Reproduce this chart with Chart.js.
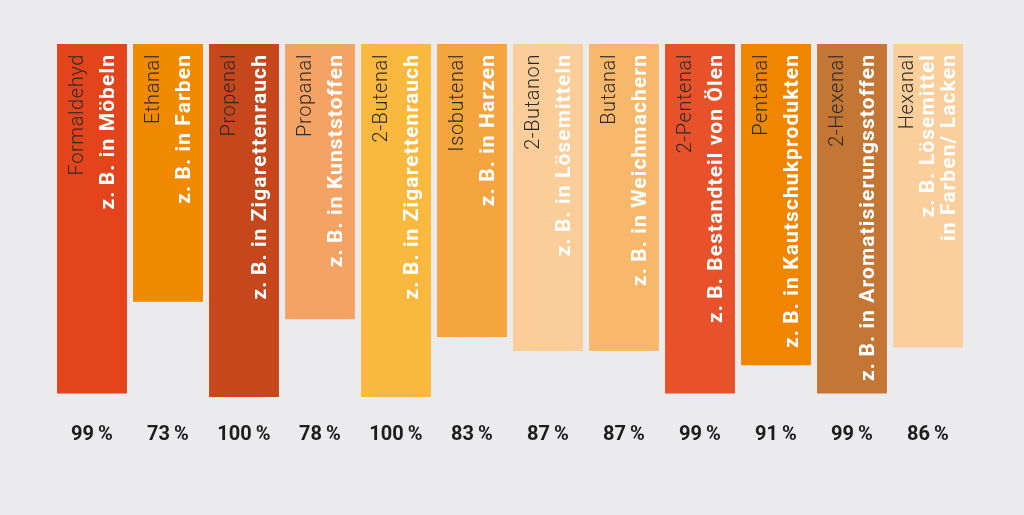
<!DOCTYPE html>
<html>
<head>
<meta charset="utf-8">
<script src="https://cdn.jsdelivr.net/npm/chart.js@4/dist/chart.umd.min.js"></script>
<style>
  html, body { margin: 0; padding: 0; background: #ebebed; }
  #wrap { width: 1024px; height: 515px; position: relative; }
</style>
</head>
<body>
<div id="wrap"><canvas id="chart" width="1024" height="515"></canvas></div>
<script>
// substances, share (%) and usage text shown inside each bar
const substances = [
  "Formaldehyd", "Ethanal", "Propenal", "Propanal", "2-Butenal", "Isobutenal",
  "2-Butanon", "Butanal", "2-Pentenal", "Pentanal", "2-Hexenal", "Hexanal"
];
const shares = [99, 73, 100, 78, 100, 83, 87, 87, 99, 91, 99, 86];
const usages = [
  ["z.\u2009B. in Möbeln"],
  ["z.\u2009B. in Farben"],
  ["z.\u2009B. in Zigarettenrauch"],
  ["z.\u2009B. in Kunststoffen"],
  ["z.\u2009B. in Zigarettenrauch"],
  ["z.\u2009B. in Harzen"],
  ["z.\u2009B. in Lösemitteln"],
  ["z.\u2009B. in Weichmachern"],
  ["z.\u2009B. Bestandteil von Ölen"],
  ["z.\u2009B. in Kautschukprodukten"],
  ["z.\u2009B. in Aromatisierungsstoffen"],
  ["z.\u2009B. Lösemittel", "in Farben/ Lacken"]
];
const barColors = [
  "#e4441b", "#f08a00", "#c6471c", "#f5a364", "#f9b93e", "#f5a540",
  "#fbcd98", "#f7b86c", "#e8522a", "#f08600", "#c47634", "#fbcf9b"
];

const FONT = "Roboto, 'Open Sans', sans-serif";

// vertical text inside the bars, reading bottom to top, anchored near the top
const barTextPlugin = {
  id: "barText",
  afterDatasetsDraw(chart) {
    const { ctx } = chart;
    const meta = chart.getDatasetMeta(0);
    meta.data.forEach((bar, i) => {
      const lines = [{ text: substances[i], bold: false }]
        .concat(usages[i].map(t => ({ text: t, bold: true })));
      const step = lines.length > 2 ? 21 : 31;
      const first = bar.x + 1 - step * (lines.length - 1) / 2;
      const top = chart.chartArea.top + 10;
      lines.forEach((ln, li) => {
        ctx.save();
        ctx.translate(first + li * step, top);
        ctx.rotate(-Math.PI / 2);
        ctx.textAlign = "right";
        ctx.textBaseline = "middle";
        ctx.font = ln.bold ? `bold 21px ${FONT}` : `300 20px ${FONT}`;
        ctx.letterSpacing = ln.bold ? "1.1px" : "0.6px";
        ctx.fillStyle = ln.bold ? "#ffffff" : "#2b2b2b";
        ctx.fillText(ln.text, 0, 0);
        ctx.restore();
      });
    });
  }
};

new Chart(document.getElementById("chart"), {
  type: "bar",
  data: {
    labels: substances,
    datasets: [{
      data: shares,
      backgroundColor: barColors,
      borderWidth: 0,
      barPercentage: 0.92,
      categoryPercentage: 1.0
    }]
  },
  options: {
    responsive: false,
    animation: false,
    layout: { padding: { top: 44, left: 54, right: 58, bottom: 42 } },
    plugins: { legend: { display: false }, tooltip: { enabled: false } },
    scales: {
      x: {
        grid: { display: false, drawTicks: false },
        border: { display: false },
        ticks: {
          padding: 26,
          color: "#1d1d1b",
          font: { family: FONT, size: 20, weight: "bold" },
          callback: (v, i) => shares[i] + "\u2009%"
        }
      },
      y: {
        display: false,
        reverse: true,
        min: 0,
        max: 100
      }
    }
  },
  plugins: [barTextPlugin]
});
</script>
</body>
</html>
